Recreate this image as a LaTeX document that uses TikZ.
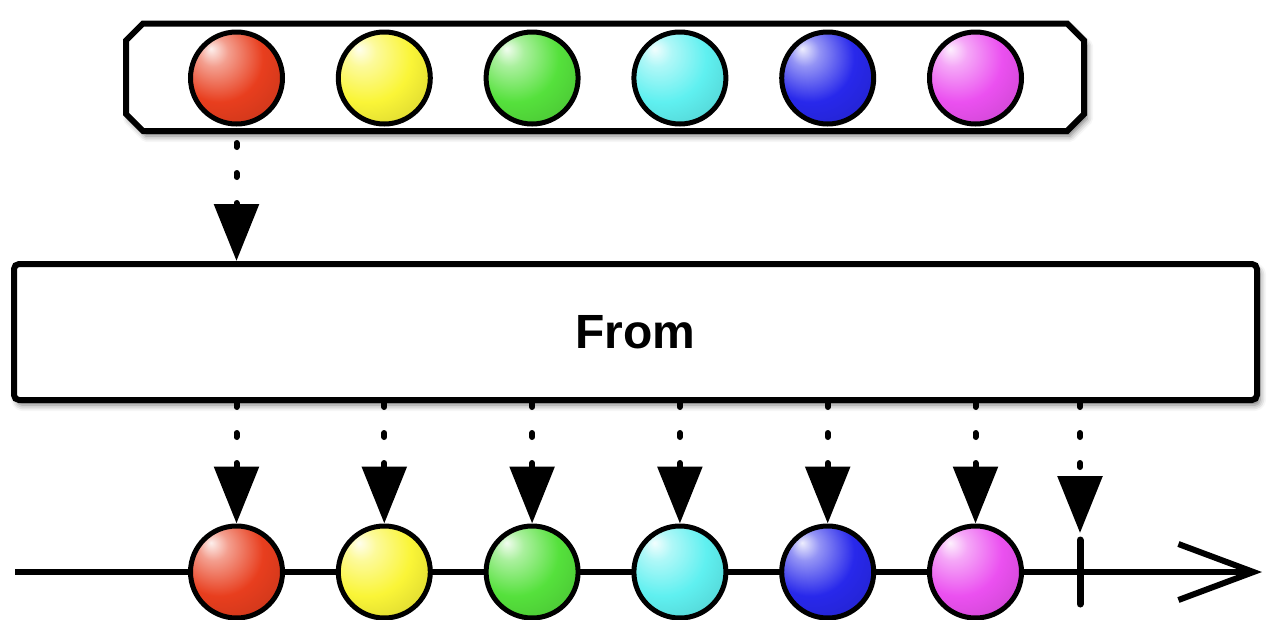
\documentclass[tikz,border=0pt]{standalone}
\usepackage{fontspec}
\setsansfont{Liberation Sans}
\usetikzlibrary{arrows.meta,shadows.blur}

\definecolor{mred}{RGB}{232,62,30}
\definecolor{myellow}{RGB}{250,245,55}
\definecolor{mgreen}{RGB}{85,225,60}
\definecolor{mcyan}{RGB}{95,240,240}
\definecolor{mblue}{RGB}{40,40,235}
\definecolor{mmagenta}{RGB}{235,80,240}
\colorlet{ballcol}{mred}
\pgfdeclareradialshading[ballcol]{glossy}{\pgfpoint{-14bp}{16bp}}{%
  color(0bp)=(ballcol!8!white); color(8bp)=(ballcol!50!white);
  color(24bp)=(ballcol); color(55bp)=(ballcol!75!black);
  color(75bp)=(ballcol!50!black)}

\begin{document}
\begin{tikzpicture}[x=1pt,y=-1pt,
    softshadow/.style={blur shadow={shadow xshift=3pt,shadow yshift=-5pt,
      shadow blur radius=6pt,shadow opacity=55}},
    marble/.style={circle,draw,line width=5pt,minimum size=92pt,inner sep=0pt,
      /utils/exec={\colorlet{ballcol}{#1}},shading=glossy},
    flow/.style={draw=black,line width=6pt,line cap=round,dash pattern=on 4pt off 26pt,
      -{Triangle[length=57pt,width=44pt,fill=black,color=black]}}]
  \useasboundingbox (0,0) rectangle (1280,619);

  \node[rectangle,inner sep=0pt,outer sep=0pt,minimum width=958pt,
    minimum height=107.5pt] (src) at (605,77.25) {};
  \begin{scope}
    \draw[line width=6pt,fill=white,softshadow]
      ([xshift=17pt]src.north west) -- ([xshift=-17pt]src.north east)
      -- ([yshift=-17pt]src.north east) -- ([yshift=17pt]src.south east)
      -- ([xshift=-17pt]src.south east) -- ([xshift=17pt]src.south west)
      -- ([yshift=17pt]src.south west) -- ([yshift=-17pt]src.north west) -- cycle;
    \node[rectangle,draw,fill=white,line width=6pt,rounded corners=5pt,
      minimum width=1243pt,minimum height=136pt,softshadow,
      font=\sffamily\bfseries\fontsize{48}{48}\selectfont] (from) at (635.5,332) {From};
  \end{scope}

  \coordinate (tl-start) at (15,572);
  \coordinate (tl-end) at (1262,572);
  \coordinate (done-top) at (1080,540);
  \coordinate (done-bot) at (1080,604);
  \draw[line width=6pt,-{Straight Barb[length=75pt,width=56pt]}] (tl-start) -- (tl-end);
  \draw[line width=7pt,line cap=round] (done-top) -- (done-bot);

  \foreach \c [count=\i] in {mred,myellow,mgreen,mcyan,mblue,mmagenta} {
    \node[marble=\c] (t\i) at ({236.5+147.8*(\i-1)},78) {};
    \node[marble=\c] (b\i) at ({236.5+147.8*(\i-1)},572) {};
  }

  \draw[flow] ([yshift=-12pt]src.south -| t1) -- (t1 |- from.north);
  \foreach \i in {1,...,6}
    \draw[flow] (from.south -| b\i) -- (b\i.north);
  \draw[flow] (from.south -| done-top) -- ([yshift=7pt]done-top);
\end{tikzpicture}
\end{document}
